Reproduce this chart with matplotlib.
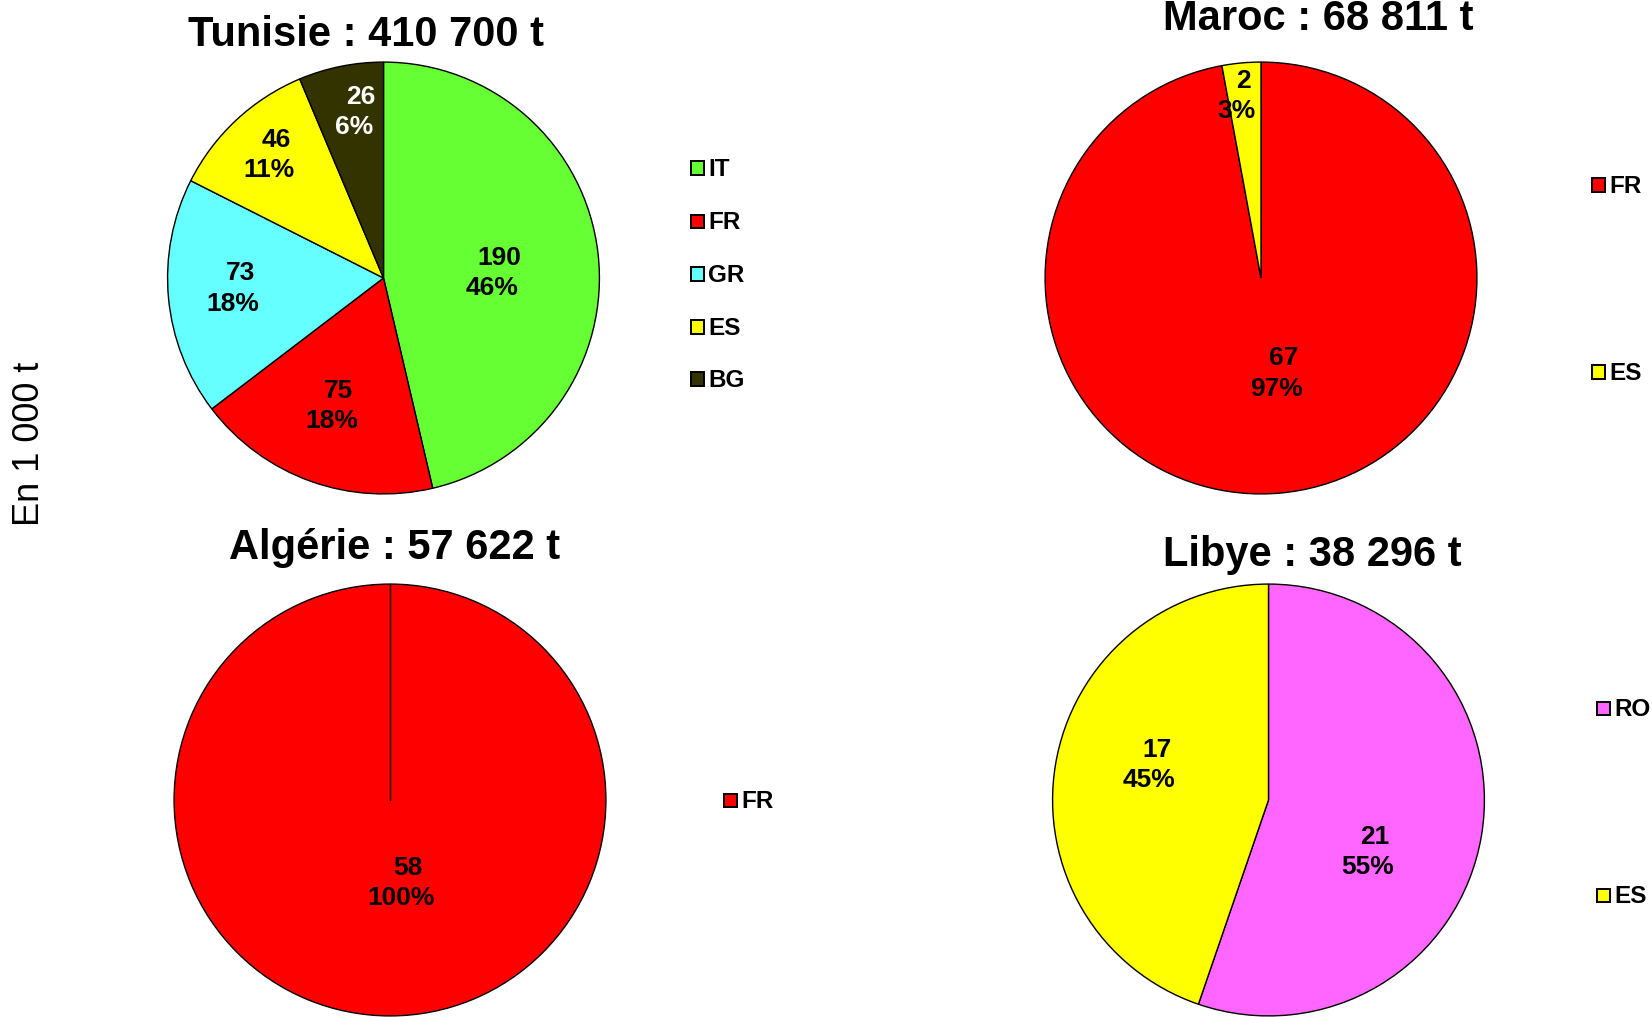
import numpy as np
import matplotlib
matplotlib.use("Agg")
import matplotlib.pyplot as plt
from matplotlib.patches import Rectangle

plt.rcParams['font.family'] = ['Liberation Sans', 'DejaVu Sans']

# data (values in 1 000 t)
tun_labels = ['IT', 'FR', 'GR', 'ES', 'BG']
tun_values = [190, 75, 73, 46, 26]
mar_labels = ['FR', 'ES']
mar_values = [67, 2]
alg_labels = ['FR']
alg_values = [58]
lib_labels = ['RO', 'ES']
lib_values = [21, 17]
titles = ['Tunisie : 410 700 t', 'Maroc : 68 811 t',
          'Algérie : 57 622 t', 'Libye : 38 296 t']

colors = {'IT': '#66FF33', 'FR': '#FF0000', 'GR': '#66FFFF',
          'ES': '#FFFF00', 'BG': '#333300', 'RO': '#FF66FF'}
text_colors = {'BG': 'white'}

W, H = 1652, 1017
fig = plt.figure(figsize=(W / 100, H / 100), dpi=100)

R = 217  # pie radius in px

# layout per pie: centre (px from top-left), title (x, baseline), legend, label placement
layout = [
    dict(c=(383.5, 278), title=(366, 46), leg_x=691, leg_y=[168, 221, 274, 327, 379],
         lab_r=[0.51, 0.63, 0.69, 0.78, 0.79], lab_da=[-3, -2, -2, -1, -2]),
    dict(c=(1261, 278), title=(1318, 30), leg_x=1592, leg_y=[185, 372],
         lab_r=[0.44, 0.86], lab_da=[5, 2]),
    dict(c=(390, 800), title=(395, 559), leg_x=724, leg_y=[800],
         lab_r=[0.38], lab_da=[9]),
    dict(c=(1268.5, 800), title=(1312, 566), leg_x=1597, leg_y=[708, 895],
         lab_r=[0.52, 0.57], lab_da=[-17, -8]),
]
series = [(tun_labels, tun_values), (mar_labels, mar_values),
          (alg_labels, alg_values), (lib_labels, lib_values)]

for (labels, values), lay, title in zip(series, layout, titles):
    cx, cy = lay['c']
    ax = fig.add_axes([(cx - R) / W, (H - cy - R) / H, 2 * R / W, 2 * R / H])
    wedges, _ = ax.pie(values, colors=[colors[l] for l in labels],
                       startangle=90, counterclock=False, radius=1,
                       wedgeprops=dict(edgecolor='black', linewidth=1.0))
    ax.set_xlim(-1.005, 1.005)
    ax.set_ylim(-1.005, 1.005)
    ax.set_aspect('equal')
    ax.axis('off')
    for w in wedges:
        w.set_clip_on(False)
    if len(values) == 1:
        a = np.deg2rad(wedges[0].theta1)
        ax.plot([0, np.cos(a)], [0, np.sin(a)], color='black', lw=1.0)

    total = sum(values)
    for w, lab, v, r, da in zip(wedges, labels, values, lay['lab_r'], lay['lab_da']):
        ang = np.deg2rad((w.theta1 + w.theta2) / 2 + da)
        x, y = r * np.cos(ang), r * np.sin(ang)
        tc = text_colors.get(lab, 'black')
        pct = f"{round(100 * v / total)}%"
        ax.annotate(str(v), (x, y), xytext=(4, 9.5), textcoords='offset points',
                    ha='center', va='center', fontsize=19, fontweight='bold', color=tc)
        ax.annotate(pct, (x, y), xytext=(-1.2, -12.3), textcoords='offset points',
                    ha='center', va='center', fontsize=19, fontweight='bold', color=tc)

    tx, ty = lay['title']
    fig.text(tx / W, 1 - ty / H, title, ha='center', va='baseline',
             fontsize=30, fontweight='bold')

    # legend: small bordered squares with bold codes
    s = 13
    for lab, ly in zip(labels, lay['leg_y']):
        fig.add_artist(Rectangle((lay['leg_x'] / W, 1 - (ly + s / 2) / H), s / W, s / H,
                                 transform=fig.transFigure, facecolor=colors[lab],
                                 edgecolor='black', linewidth=1.4))
        fig.text((lay['leg_x'] + s + 4) / W, 1 - (ly + 1.5) / H, lab, ha='left', va='center',
                 fontsize=17.5, fontweight='bold')

fig.text(29.5 / W, 1 - 444 / H, 'En 1 000 t', rotation=90, ha='center', va='center',
         fontsize=26)

fig.savefig('out.png', dpi=100, facecolor='white')
